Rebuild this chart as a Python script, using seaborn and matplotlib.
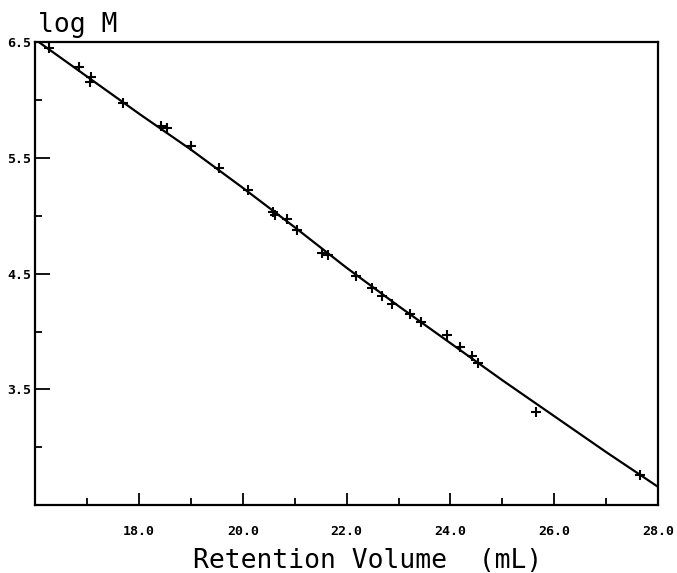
import matplotlib.pyplot as plt
import pandas as pd
import seaborn as sns

# calibration standards (retention volume in mL, log M)
ret_volume = [16.27, 16.85, 17.08, 17.06, 17.69, 18.42, 18.54, 19.00, 19.54, 20.10,
              20.58, 20.62, 20.85, 21.04, 21.52, 21.65, 22.19, 22.48, 22.69, 22.87,
              23.23, 23.44, 23.94, 24.19, 24.42, 24.54, 25.65, 27.65]
log_m = [6.45, 6.28, 6.20, 6.15, 5.97, 5.77, 5.76, 5.60, 5.41, 5.22,
         5.03, 5.01, 4.97, 4.88, 4.68, 4.66, 4.48, 4.38, 4.31, 4.24,
         4.15, 4.08, 3.97, 3.87, 3.79, 3.73, 3.31, 2.76]

# fitted calibration curve
fit_volume = [16.0, 17.0, 18.0, 19.0, 20.0, 21.0, 22.0, 23.0, 24.0, 25.0, 26.0, 27.0, 28.0]
fit_log_m = [6.52, 6.20, 5.88, 5.57, 5.24, 4.90, 4.55, 4.22, 3.90, 3.58, 3.27, 2.96, 2.66]

x_ticks = [18, 20, 22, 24, 26, 28]
y_ticks = [3.5, 4.5, 5.5, 6.5]

sns.set_style("ticks")
plt.rcParams["font.family"] = ["DejaVu Sans Mono"]
plt.rcParams["text.color"] = "black"
plt.rcParams["xtick.color"] = "black"
plt.rcParams["ytick.color"] = "black"
plt.rcParams["axes.labelcolor"] = "black"

pts = pd.DataFrame({"volume": ret_volume, "logm": log_m})
fit = pd.DataFrame({"volume": fit_volume, "logm": fit_log_m})

fig = plt.figure(figsize=(6.77, 5.73), dpi=100)
ax = fig.add_axes([0.052, 0.118, 0.920, 0.809])

sns.lineplot(data=fit, x="volume", y="logm", color="black", linewidth=1.6, ax=ax)
sns.scatterplot(data=pts, x="volume", y="logm", marker="+", s=55, color="black",
                linewidth=1.5, ax=ax)

ax.set_xlim(16, 28)
ax.set_ylim(2.5, 6.5)
ax.set_xticks(x_ticks)
ax.set_xticklabels([f"{v:.1f}" for v in x_ticks])
ax.set_yticks(y_ticks)
ax.set_yticklabels([f"{v:.1f}" for v in y_ticks])
ax.set_xticks([17, 19, 21, 23, 25, 27], minor=True)
ax.set_yticks([3.0, 4.0, 5.0, 6.0], minor=True)
ax.tick_params(axis="x", which="major", direction="in", length=9, width=1.3,
               labelsize=9.5, pad=14)
ax.tick_params(axis="y", which="major", direction="in", length=11, width=1.3,
               labelsize=9.5, pad=3)
ax.tick_params(which="minor", direction="in", length=5, width=1.3)
for lbl in ax.get_xticklabels() + ax.get_yticklabels():
    lbl.set_fontweight("bold")

for side in ["left", "right", "top", "bottom"]:
    ax.spines[side].set_visible(True)
    ax.spines[side].set_linewidth(1.6)
    ax.spines[side].set_color("black")

ax.set_xlabel("Retention Volume  (mL)", fontsize=19)
ax.xaxis.set_label_coords(0.534, -0.092)
ax.set_ylabel("")
fig.text(0.056, 0.944, "log M", fontsize=19, ha="left", va="baseline")

fig.savefig("out.png", dpi=100)
